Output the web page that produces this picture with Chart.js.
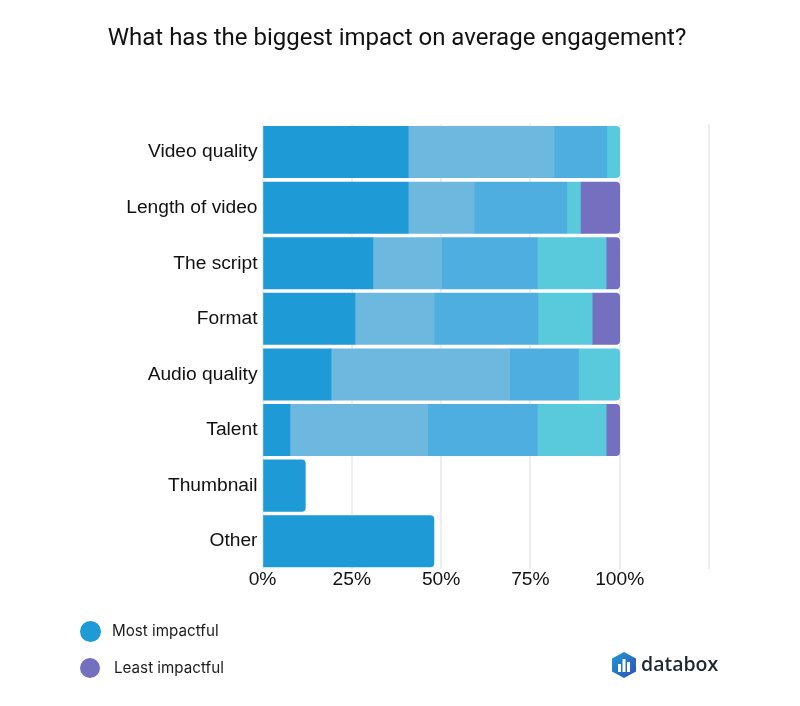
<!DOCTYPE html>
<html>
<head>
<meta charset="utf-8">
<script src="https://cdn.jsdelivr.net/npm/chart.js@4"></script>
<style>
html,body{margin:0;padding:0;background:#fff;width:800px;height:706px;overflow:hidden}
#wrap{position:relative;width:800px;height:706px}
canvas{position:absolute;left:0;top:0}
.lg{position:absolute;font:15.2px Inter,sans-serif;color:#1c1c1c;white-space:nowrap;line-height:20px}
.dot{position:absolute;border-radius:50%}
#logo{position:absolute;left:611px;top:651px}
#logoText{position:absolute;left:641px;top:649px;font:600 19.5px "Open Sans",sans-serif;color:#1d2733;line-height:30px}
</style>
</head>
<body>
<div id="wrap">
<canvas id="c" width="800" height="706"></canvas>
<div class="dot" style="left:80px;top:621px;width:21px;height:21px;background:#1e9ad6"></div>
<div class="lg" id="l0" style="left:112px;top:621px"></div>
<div class="dot" style="left:80px;top:658px;width:20px;height:20px;background:#756fc0"></div>
<div class="lg" id="l1" style="left:114px;top:658px"></div>
<svg id="logo" width="26" height="28" viewBox="0 0 26 28">
<defs><linearGradient id="g" x1="0" y1="0" x2="1" y2="1"><stop offset="0" stop-color="#1e9ad6"/><stop offset="1" stop-color="#2f4fb5"/></linearGradient></defs>
<path d="M13 1 L25 7.5 V20.5 L13 27 L1 20.5 V7.5 Z" fill="url(#g)"/>
<rect x="7" y="13" width="3" height="8" fill="#fff"/><rect x="11.5" y="8" width="3" height="13" fill="#fff"/><rect x="16" y="11" width="3" height="10" fill="#fff"/>
</svg>
<div id="logoText"></div>
</div>
<script>
const titleText = "What has the biggest impact on average engagement?";
const categories = ["Video quality","Length of video","The script","Format","Audio quality","Talent","Thumbnail","Other"];
const seriesNames = ["Most impactful","Second","Third","Fourth","Least impactful"];
const s1 = [40.8,40.8,30.9,25.9,19.2,7.7,12,48];
const s2 = [40.8,18.5,19.2,22.2,50,38.5,null,null];
const s3 = [14.8,25.9,26.9,29,19.3,30.8,null,null];
const s4 = [3.6,3.8,19.2,15.2,11.5,19.2,null,null];
const s5 = [null,11,3.8,7.7,null,3.8,null,null];
const colors = ["#1e9ad6","#6cb8de","#4eaee0","#58cadc","#756fc0"];
const xTicks = [0,25,50,75,100];
const allSeries = [s1,s2,s3,s4,s5];

document.getElementById("l0").textContent = seriesNames[0];
document.getElementById("l1").textContent = seriesNames[4];
document.getElementById("logoText").textContent = "databox";

function lastIndex(i){ let k=-1; allSeries.forEach((s,d)=>{ if(s[i]>0) k=d; }); return k; }

const datasets = allSeries.map((data,d)=>({
  label: seriesNames[d],
  data,
  backgroundColor: colors[d],
  borderWidth: 0,
  borderSkipped: false,
  inflateAmount: 0.3,
  borderRadius: ctx => lastIndex(ctx.dataIndex)===d
    ? {topRight:4,bottomRight:4,topLeft:0,bottomLeft:0} : 0,
  categoryPercentage: 1,
  barPercentage: 0.925
}));

new Chart(document.getElementById("c"),{
  type:"bar",
  data:{labels:categories,datasets},
  options:{
    indexAxis:"y",
    responsive:false,
    animation:false,
    devicePixelRatio:1,
    layout:{padding:{left:85,right:91,top:0,bottom:0}},
    plugins:{
      legend:{display:false},
      tooltip:{enabled:false},
      title:{
        display:true,
        text:titleText,
        color:"#111",
        font:{family:"Roboto",size:24,weight:"400"},
        padding:{top:24.6,bottom:70.9}
      }
    },
    scales:{
      x:{
        stacked:true,min:0,max:125,
        afterFit:s=>{s.height=137;},
        afterBuildTicks:s=>{s.ticks=[...xTicks,125].map(v=>({value:v}));},
        grid:{color:"#eeeeee",lineWidth:2,drawTicks:false},
        border:{display:false},
        ticks:{
          autoSkip:false,maxRotation:0,padding:-1,color:"#111",
          font:{family:"Liberation Sans",size:19.2},
          callback:v=>xTicks.includes(v)?v+"%":""
        }
      },
      y:{
        stacked:true,
        afterFit:s=>{s.width=177.5;},
        grid:{display:false,drawTicks:false},
        border:{display:false},
        ticks:{
          padding:5,color:"#111",autoSkip:false,
          font:{family:"Liberation Sans",size:19.2}
        }
      }
    }
  }
});
</script>
</body>
</html>
